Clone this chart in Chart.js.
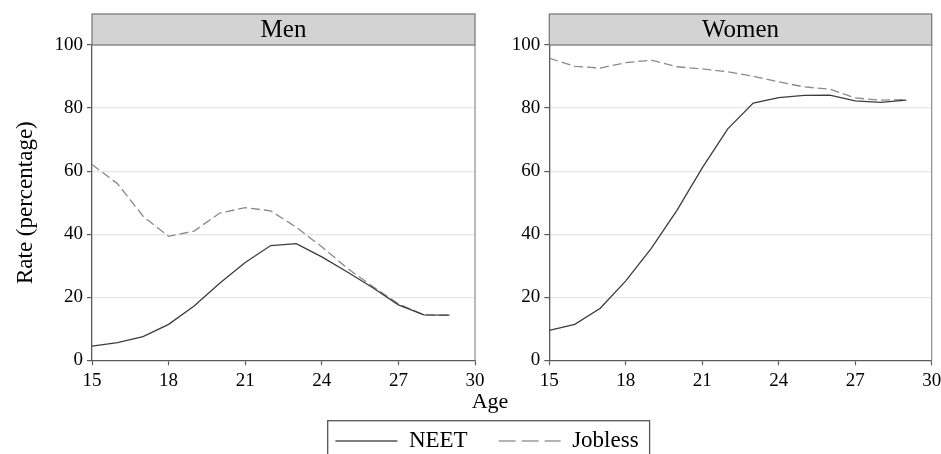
<!DOCTYPE html>
<html>
<head>
<meta charset="utf-8">
<script src="https://cdn.jsdelivr.net/npm/chart.js@4/dist/chart.umd.min.js"></script>
<style>
  html, body { margin: 0; padding: 0; background: #fff; overflow: hidden; width: 941px; height: 454px; }
  canvas { position: absolute; left: 0; top: 0; }
</style>
</head>
<body>
<canvas id="men" width="941" height="454"></canvas>
<canvas id="women" width="941" height="454"></canvas>
<canvas id="legend" width="941" height="480"></canvas>
<script>
const ages = [15, 16, 17, 18, 19, 20, 21, 22, 23, 24, 25, 26, 27, 28, 29];
const menNeet = [4.5, 5.6, 7.5, 11.4, 17.2, 24.4, 31.0, 36.4, 37.0, 32.8, 28.0, 23.0, 17.6, 14.4, 14.3];
const menJobless = [62.1, 56.0, 45.7, 39.3, 41.0, 46.7, 48.4, 47.4, 42.2, 36.0, 29.2, 23.4, 17.9, 14.4, 14.3];
const womenNeet = [9.5, 11.4, 16.5, 25.2, 35.5, 47.5, 61.0, 73.4, 81.6, 83.3, 84.0, 84.1, 82.3, 81.8, 82.5];
const womenJobless = [95.8, 93.2, 92.7, 94.4, 95.2, 93.1, 92.4, 91.5, 90.1, 88.3, 86.7, 86.0, 83.2, 82.5, 82.7];
const panelTitles = ["Men", "Women"];
const seriesNames = ["NEET", "Jobless"];
const xTicks = [15, 18, 21, 24, 27, 30];
const yTicks = [0, 20, 40, 60, 80, 100];
const xTitle = "Age";
const yTitle = "Rate (percentage)";

const SERIF = "'Liberation Serif', 'Times New Roman', serif";
const NEET_COLOR = '#3c3c3c';
const JOB_COLOR = '#8a8a8a';
const JOB_DASH = [9, 4];

function pts(vals) { return ages.map((a, i) => ({ x: a, y: vals[i] })); }

function panelPlugin(title, drawAge) {
  return {
    id: 'panel_' + title,
    beforeDatasetsDraw(chart) {
      const { ctx, chartArea: a } = chart;
      ctx.save();
      ctx.strokeStyle = '#8c8c8c';
      ctx.lineWidth = 1.2;
      ctx.beginPath();
      ctx.moveTo(a.right, a.top);
      ctx.lineTo(a.right, a.bottom);
      ctx.stroke();
      ctx.restore();
    },
    afterDraw(chart) {
      const { ctx, chartArea: a } = chart;
      ctx.save();
      ctx.fillStyle = '#d3d3d3';
      ctx.fillRect(a.left, 14, a.right - a.left, a.top - 14);
      ctx.strokeStyle = '#7c7c7c';
      ctx.lineWidth = 1.3;
      ctx.strokeRect(a.left, 14, a.right - a.left, a.top - 14);
      ctx.fillStyle = '#000';
      ctx.font = '25px ' + SERIF;
      ctx.textAlign = 'center';
      ctx.textBaseline = 'alphabetic';
      ctx.fillText(title, (a.left + a.right) / 2, 36.5);
      if (drawAge) {
        ctx.font = '22px ' + SERIF;
        ctx.fillText(xTitle, 490, 408);
      }
      ctx.restore();
    }
  };
}

function makePanel(id, title, neet, jobless, opts) {
  return new Chart(document.getElementById(id), {
    type: 'line',
    data: {
      datasets: [
        { label: seriesNames[0], data: pts(neet), borderColor: NEET_COLOR, borderWidth: 1.3, pointRadius: 0, tension: 0, fill: false },
        { label: seriesNames[1], data: pts(jobless), borderColor: JOB_COLOR, borderWidth: 1.3, borderDash: JOB_DASH, pointRadius: 0, tension: 0, fill: false }
      ]
    },
    options: {
      responsive: false,
      animation: false,
      events: [],
      layout: { padding: opts.padding },
      plugins: { legend: { display: false }, tooltip: { enabled: false } },
      scales: {
        x: {
          type: 'linear', min: 15, max: 30,
          afterBuildTicks: s => { s.ticks = xTicks.map(v => ({ value: v })); },
          afterFit: s => { s.height = 30; s.paddingLeft = 0; s.paddingRight = 0; },
          ticks: { color: '#000', font: { family: SERIF, size: 19 }, padding: 4, maxRotation: 0 },
          grid: { drawOnChartArea: false, tickLength: 5, tickColor: '#5a5a5a', tickWidth: 1.2 },
          border: { color: '#5a5a5a', width: 1.3 }
        },
        y: {
          type: 'linear', min: 0, max: 100,
          afterBuildTicks: s => { s.ticks = yTicks.map(v => ({ value: v })); },
          afterFit: s => { s.width = opts.yWidth; s.paddingTop = 0; s.paddingBottom = 0; },
          ticks: { color: '#000', font: { family: SERIF, size: 19 }, padding: 4 },
          grid: { color: ctx => (ctx.tick && (ctx.tick.value === 0 || ctx.tick.value === 100)) ? 'rgba(0,0,0,0)' : '#e6e6e6', lineWidth: 1.2, tickLength: 5, tickColor: '#5a5a5a', tickWidth: 1.2 },
          border: { color: '#5a5a5a', width: 1.3 },
          title: opts.showYTitle ? { display: true, text: yTitle, color: '#000', font: { family: SERIF, size: 23 }, padding: { top: 12, bottom: 0 } } : { display: false }
        }
      }
    },
    plugins: [panelPlugin(title, opts.drawAge)]
  });
}

makePanel('men', panelTitles[0], menNeet, menJobless, {
  padding: { top: 45, left: 0, right: 466, bottom: 63.7 }, yWidth: 92, showYTitle: true, drawAge: true
});
makePanel('women', panelTitles[1], womenNeet, womenJobless, {
  padding: { top: 45, left: 489.3, right: 9.3, bottom: 63.7 }, yWidth: 60, showYTitle: false, drawAge: false
});

// Legend chart
new Chart(document.getElementById('legend'), {
  type: 'line',
  data: {
    datasets: [
      { label: seriesNames[0], data: [], borderColor: '#555', borderWidth: 1.3 },
      { label: seriesNames[1], data: [], borderColor: '#9a9a9a', borderWidth: 1.3, borderDash: [17, 6] }
    ]
  },
  options: {
    responsive: false,
    animation: false,
    events: [],
    layout: { padding: { left: 33, right: 0, top: 0, bottom: 17.5 } },
    scales: { x: { display: false }, y: { display: false } },
    plugins: {
      tooltip: { enabled: false },
      legend: {
        position: 'bottom',
        labels: {
          font: { family: SERIF, size: 23 },
          color: '#000',
          usePointStyle: true,
          pointStyleWidth: 62,
          padding: 31,
          generateLabels: chart => chart.data.datasets.map((d, i) => ({
            text: d.label,
            strokeStyle: d.borderColor,
            fillStyle: 'rgba(0,0,0,0)',
            lineWidth: d.borderWidth,
            lineDash: d.borderDash || [],
            pointStyle: 'line',
            hidden: false,
            datasetIndex: i
          }))
        }
      }
    }
  },
  plugins: [{
    id: 'legendBox',
    afterDraw(chart) {
      const lg = chart.legend;
      if (!lg || !lg.legendHitBoxes.length) return;
      const hb = lg.legendHitBoxes;
      const first = hb[0], last = hb[hb.length - 1];
      const ctx = chart.ctx;
      ctx.save();
      ctx.strokeStyle = '#555';
      ctx.lineWidth = 1.3;
      const x0 = first.left - 7.7, x1 = last.left + last.width + 11;
      const y0 = first.top - 8.8;
      ctx.strokeRect(x0, y0, x1 - x0, 60);
      ctx.restore();
    }
  }]
});
</script>
</body>
</html>
